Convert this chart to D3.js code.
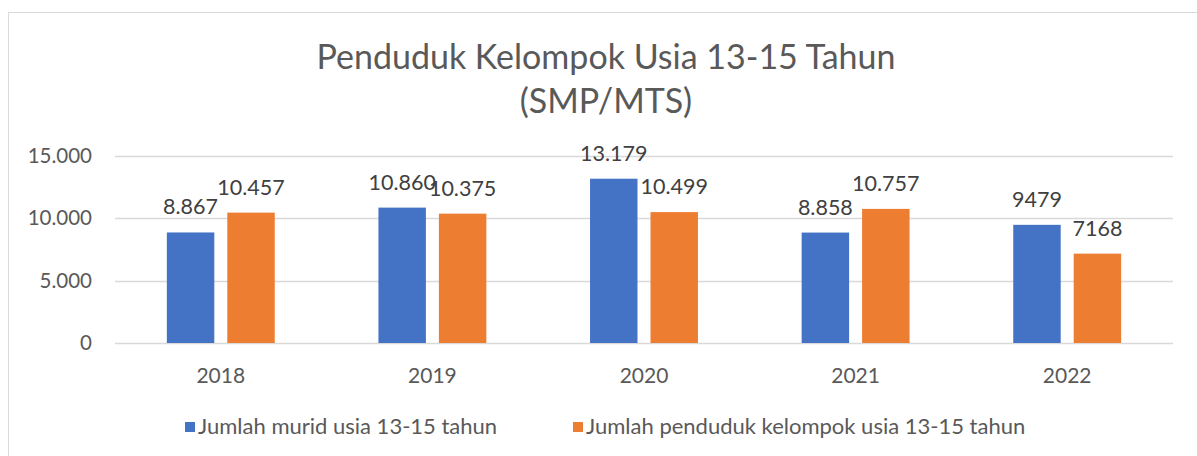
<!DOCTYPE html>
<html><head><meta charset="utf-8">
<script src="https://cdn.jsdelivr.net/npm/d3@7"></script>
<style>body{margin:0;background:#fff}svg{display:block}</style>
</head><body>
<svg id="c" width="1197" height="456"></svg>
<script>
const categories = ["2018","2019","2020","2021","2022"];
const seriesNames = ["Jumlah murid usia 13-15 tahun","Jumlah penduduk kelompok usia 13-15 tahun"];
const murid = [8867,10860,13179,8858,9479];
const penduduk = [10457,10375,10499,10757,7168];
const muridLabels = ["8.867","10.860","13.179","8.858","9479"];
const pendudukLabels = ["10.457","10.375","10.499","10.757","7168"];
const yTicks = [0,5000,10000,15000];
const yTickLabels = ["0","5.000","10.000","15.000"];
const colors = ["#4472C4","#ED7D31"];

const svg = d3.select("#c");
const font = "Lato, 'Open Sans', sans-serif";

svg.append("rect").attr("x",8.5).attr("y",12.5).attr("width",1230).attr("height",480)
  .attr("fill","#fff").attr("stroke","#d9d9d9");

svg.append("text").attr("x",606).attr("y",69).attr("text-anchor","middle")
  .attr("font-family",font).attr("font-size",34).attr("fill","#595959")
  .text("Penduduk Kelompok Usia 13-15 Tahun");
svg.append("text").attr("x",606).attr("y",113).attr("text-anchor","middle")
  .attr("font-family",font).attr("font-size",34).attr("fill","#595959")
  .text("(SMP/MTS)");

const y = d3.scaleLinear().domain([0,15000]).range([343,156]);
const x0 = d3.scaleBand().domain(categories).range([115,1173]).paddingInner(0.49).paddingOuter(0.245);
const x1 = d3.scaleBand().domain([0,1]).range([0,x0.bandwidth()]).paddingInner(0.215);

const g = svg.append("g");
g.selectAll("line.grid").data(yTicks).join("line")
  .attr("x1",115).attr("x2",1173).attr("y1",d=>Math.round(y(d))+0.5).attr("y2",d=>Math.round(y(d))+0.5)
  .attr("stroke","#d9d9d9").attr("stroke-width",1.5);

g.selectAll("text.ytick").data(yTicks).join("text")
  .attr("x",92).attr("y",d=>y(d)+7).attr("text-anchor","end")
  .attr("font-family",font).attr("font-size",20.5).attr("fill","#595959")
  .text((d,i)=>yTickLabels[i]);

g.selectAll("text.xtick").data(categories).join("text")
  .attr("x",d=>x0(d)+x0.bandwidth()/2).attr("y",383).attr("text-anchor","middle")
  .attr("font-family",font).attr("font-size",21).attr("fill","#595959")
  .text(d=>d);

const series = [murid,penduduk];
const labels = [muridLabels,pendudukLabels];
series.forEach((vals,s)=>{
  g.selectAll("rect.s"+s).data(vals).join("rect")
    .attr("x",(d,i)=>x0(categories[i])+x1(s)).attr("width",x1.bandwidth())
    .attr("y",d=>y(d)).attr("height",d=>y(0)-y(d)).attr("fill",colors[s]);
  g.selectAll("text.l"+s).data(vals).join("text")
    .attr("x",(d,i)=>x0(categories[i])+x1(s)+x1.bandwidth()/2).attr("y",d=>y(d)-18)
    .attr("text-anchor","middle").attr("font-family",font).attr("font-size",21.5).attr("fill","#404040")
    .text((d,i)=>labels[s][i]);
});

const legX = [185,573];
seriesNames.forEach((n,i)=>{
  svg.append("rect").attr("x",legX[i]).attr("y",422).attr("width",10).attr("height",10).attr("fill",colors[i]);
  svg.append("text").attr("x",legX[i]+13).attr("y",434).attr("font-family",font).attr("font-size",22)
    .attr("fill","#595959").text(n);
});
</script>
</body></html>
